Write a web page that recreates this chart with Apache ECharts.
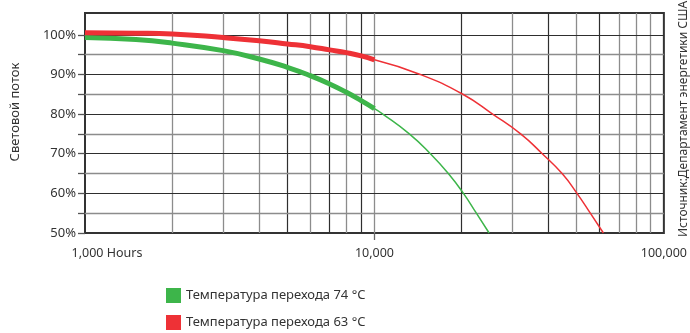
<!DOCTYPE html>
<html>
<head>
<meta charset="utf-8">
<script src="https://cdn.jsdelivr.net/npm/echarts@6/dist/echarts.min.js"></script>
<style>
html,body{margin:0;padding:0;background:#fff;}
#chart{width:690px;height:333px;}
</style>
</head>
<body>
<div id="chart"></div>
<script>
// ---- data ----
const seriesNames = ['Температура перехода 74 °C', 'Температура перехода 63 °C'];
const yAxisTitle = 'Световой поток';
const sourceNote = 'Источник:Департамент энергетики США';

const xTickValues = [1000, 10000, 100000];
const xTickLabels = ['1,000 Hours', '10,000', '100,000'];
const yTickValues = [50, 60, 70, 80, 90, 100];
const yMinorTicks = [50, 55, 60, 65, 70, 75, 80, 85, 90, 95, 100];

// 74 °C – thick (tested) part and thin (projected) part
const greenThickHours = [1000, 1500, 2000, 3000, 4000, 5000, 6000, 7000, 8000, 9000, 10000];
const greenThickValues = [99.3, 98.8, 97.9, 96.0, 93.9, 91.8, 89.7, 87.6, 85.5, 83.4, 81.4];
const greenThinHours = [10000, 10600, 13200, 15600, 18000, 20300, 22500, 24900];
const greenThinValues = [81.4, 80.2, 75, 70, 65, 60, 55, 50];

// 63 °C
const redThickHours = [1000, 1500, 2000, 3000, 4000, 5000, 6000, 7000, 8000, 9000, 10000];
const redThickValues = [100.5, 100.4, 100.2, 99.3, 98.5, 97.7, 97.0, 96.2, 95.5, 94.7, 93.7];
const redThinHours = [10000, 14400, 20200, 25600, 32000, 38000, 44500, 50100, 55700, 61800];
const redThinValues = [93.7, 90, 85, 80, 75, 70, 65, 60, 55, 50];

// grid line positions
const xGridDark = [5000, 7000, 9000, 20000, 40000, 60000];
const xGridLight = [2000, 3000, 4000, 6000, 8000, 10000, 30000, 50000, 70000, 80000, 90000];
const yGridDark = [60, 70, 80, 90, 100];
const yGridLight = [55, 65, 75, 85, 95];

// ---- build ----
const GREEN = '#3db54a';
const RED = '#ee3136';
const pairs = (xs, ys) => xs.map((x, i) => [x, ys[i]]);
const FONT = 'Noto Sans';

const light = { color: '#8c8c8c', width: 1.3, type: 'solid' };
const dark = { color: '#2e2e2e', width: 1.2, type: 'solid' };
const gridLines = []
  .concat(xGridLight.map(v => ({ xAxis: v, lineStyle: light })))
  .concat(xGridDark.map(v => ({ xAxis: v, lineStyle: dark })))
  .concat(yGridLight.map(v => ({ yAxis: v, lineStyle: light })))
  .concat(yGridDark.map(v => ({ yAxis: v, lineStyle: dark })));

const lineSeries = (name, color, width, data) => ({
  name: name,
  type: 'line',
  data: data,
  smooth: 0.5,
  showSymbol: false,
  symbol: 'none',
  color: color,
  lineStyle: { color: color, width: width },
  z: 5,
  animation: false
});

const chart = echarts.init(document.getElementById('chart'), null, { renderer: 'canvas' });
chart.setOption({
  animation: false,
  textStyle: { fontFamily: FONT },
  grid: {
    left: 85, right: 22, top: 13, bottom: 100,
    show: true, borderColor: '#333', borderWidth: 2, backgroundColor: 'transparent'
  },
  legend: {
    data: seriesNames.map(n => ({ name: n, icon: 'rect' })),
    orient: 'vertical',
    left: 166, top: 288,
    padding: 0,
    itemWidth: 15, itemHeight: 15, itemGap: 12,
    itemGap: 12,
    textStyle: { fontFamily: FONT, fontSize: 13, color: '#333' },
    selectedMode: false
  },
  xAxis: {
    type: 'log', logBase: 10, min: 1000, max: 100000,
    axisLine: { show: false },
    splitLine: { show: false },
    minorSplitLine: { show: false },
    axisTick: { show: true, length: 7, customValues: [10000], lineStyle: { color: '#666', width: 1.3 } },
    axisLabel: {
      customValues: xTickValues,
      showMinLabel: true, showMaxLabel: true,
      margin: 14,
      fontFamily: FONT, fontSize: 12.5, color: '#333',
      formatter: function (v) {
        const i = xTickValues.findIndex(t => Math.abs(t - v) / t < 1e-6);
        if (i < 0) return '';
        return i === 0 ? '{first|' + xTickLabels[i] + '}' : xTickLabels[i];
      },
      rich: { first: { fontFamily: FONT, fontSize: 12.5, color: '#333', padding: [0, 0, 0, 44] } }
    }
  },
  yAxis: {
    type: 'value', min: 50, max: 105.5, interval: 5,
    axisLine: { show: false },
    splitLine: { show: false },
    axisTick: { show: true, length: 7, customValues: yMinorTicks, lineStyle: { color: '#555', width: 1.3 } },
    axisLabel: {
      customValues: yTickValues,
      margin: 9,
      fontFamily: FONT, fontSize: 13, color: '#333',
      formatter: function (v) { return (v % 10 === 0 && v <= 100) ? v + '%' : ''; }
    }
  },
  graphic: [
    {
      type: 'text', x: 15, y: 112, rotation: Math.PI / 2,
      style: { text: yAxisTitle, fontFamily: FONT, fontSize: 13, fill: '#333', align: 'center', verticalAlign: 'middle' }
    },
    {
      type: 'text', x: 684, y: 119, rotation: Math.PI / 2,
      style: { text: sourceNote, fontFamily: FONT, fontSize: 12, fill: '#333', align: 'center', verticalAlign: 'middle' }
    }
  ],
  series: [
    {
      name: 'grid', type: 'line', data: [], z: 1, silent: true,
      markLine: { silent: true, symbol: ['none', 'none'], label: { show: false }, animation: false, data: gridLines }
    },
    lineSeries(seriesNames[0], GREEN, 5, pairs(greenThickHours, greenThickValues)),
    lineSeries(seriesNames[0], GREEN, 1.5, pairs(greenThinHours, greenThinValues)),
    lineSeries(seriesNames[1], RED, 5, pairs(redThickHours, redThickValues)),
    lineSeries(seriesNames[1], RED, 1.5, pairs(redThinHours, redThinValues))
  ]
});
</script>
</body>
</html>
